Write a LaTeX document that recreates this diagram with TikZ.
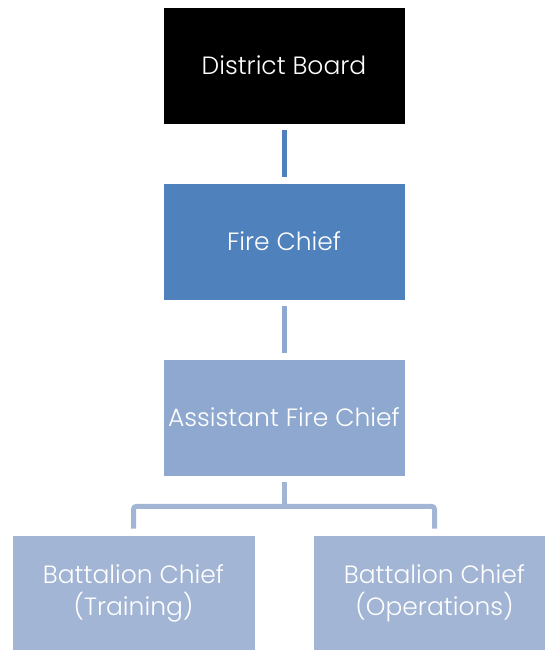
\documentclass[tikz,border=0pt]{standalone}
\usepackage{fontspec}
\setmainfont{Poppins}[UprightFont=* Light]
\begin{document}
\begin{tikzpicture}[x=1pt,y=-1pt,
  box/.style={rectangle, minimum width=242pt, minimum height=117pt, inner sep=0pt,
    draw=white, line width=0.6pt, text=white, align=center,
    font=\fontsize{25}{32}\selectfont},
  link/.style={line width=5pt}]
\definecolor{topblack}{HTML}{000000}
\definecolor{chiefblue}{HTML}{4F81BD}
\definecolor{asstblue}{HTML}{8EA8CF}
\definecolor{bcblue}{HTML}{A3B5D5}
\useasboundingbox (0,0) rectangle (545,650);
% boxes, clipped to the page so the bottom row runs off the edges
\begin{scope}
\clip (0,0) rectangle (545,650);
\node[box, fill=topblack] (db) at (284,65.5) {District Board};
\node[box, fill=chiefblue] (fc) at (284,241.5) {Fire Chief};
\node[box, fill=asstblue] (afc) at (284,417.5) {Assistant Fire Chief};
\node[box, fill=bcblue, minimum width=243pt] (bc1) at (133.5,593.5) {Battalion Chief\\(Training)};
\node[box, fill=bcblue, minimum width=243pt] (bc2) at (434.5,593.5) {Battalion Chief\\(Operations)};
\end{scope}
% connectors
\draw[link, draw=chiefblue] ([yshift=-6pt]db.south) -- ([yshift=6pt]fc.north);
\draw[link, draw=asstblue] ([yshift=-6pt]fc.south) -- ([yshift=6pt]afc.north);
\coordinate (split) at ([yshift=-30pt]afc.south);
\draw[link, draw=bcblue] ([yshift=-6pt]afc.south) -- (split);
\draw[link, draw=bcblue, rounded corners=3pt]
  ([yshift=6pt]bc1.north) |- (split) -| ([yshift=6pt]bc2.north);
\end{tikzpicture}
\end{document}
